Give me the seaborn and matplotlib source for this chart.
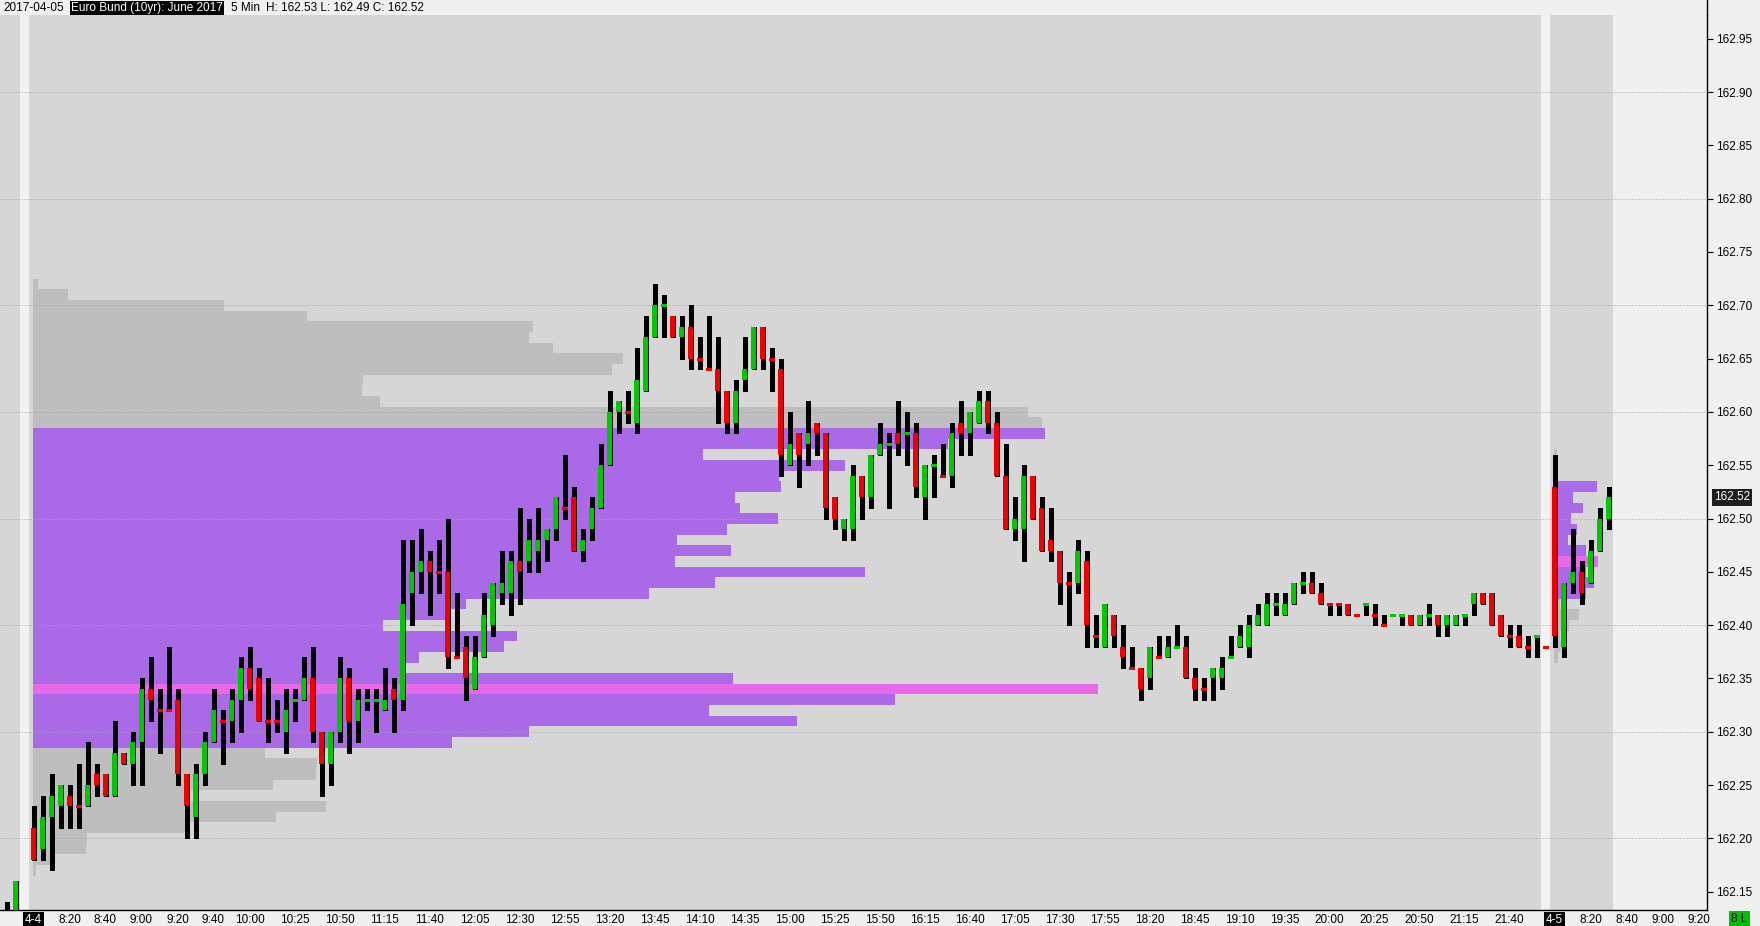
import numpy as np
import matplotlib
matplotlib.use("Agg")
import matplotlib.pyplot as plt
import matplotlib.transforms as mtransforms
from matplotlib.lines import Line2D
import seaborn as sns

sns.set_theme(style="white")
plt.rcParams['font.family'] = ['Liberation Sans', 'DejaVu Sans']
plt.rcParams['text.color'] = 'black'
plt.rcParams['xtick.color'] = 'black'
plt.rcParams['ytick.color'] = 'black'

# ---------------- data ----------------
# tail of previous session (4-3)
prev_open = [162.12, 162.12]
prev_high = [162.14, 162.16]
prev_low = [162.10, 162.10]
prev_close = [162.11, 162.16]

# session 4-4, 5-minute bars from 8:00 to 21:55
day1_open = [
    162.21, 162.19, 162.22, 162.23, 162.24, 162.23, 162.23, 162.26, 162.26, 162.24,
    162.28, 162.27, 162.29, 162.34, 162.32, 162.32, 162.33, 162.26, 162.22, 162.26,
    162.29, 162.31, 162.31, 162.33, 162.36, 162.35, 162.31, 162.31, 162.30, 162.33,
    162.33, 162.35, 162.30, 162.27, 162.30, 162.35, 162.31, 162.33, 162.33, 162.32,
    162.34, 162.33, 162.43, 162.45, 162.46, 162.45, 162.45, 162.37, 162.38, 162.34,
    162.37, 162.40, 162.43, 162.43, 162.46, 162.46, 162.47, 162.48, 162.49, 162.51,
    162.52, 162.47, 162.49, 162.51, 162.55, 162.60, 162.60, 162.59, 162.62, 162.67,
    162.70, 162.69, 162.67, 162.68, 162.65, 162.64, 162.64, 162.62, 162.59, 162.63,
    162.64, 162.68, 162.65, 162.64, 162.55, 162.58, 162.57, 162.59, 162.58, 162.52,
    162.49, 162.49, 162.54, 162.52, 162.56, 162.57, 162.58, 162.58, 162.58, 162.52,
    162.55, 162.54, 162.54, 162.59, 162.58, 162.59, 162.61, 162.59, 162.54, 162.49,
    162.49, 162.54, 162.51, 162.48, 162.47, 162.44, 162.44, 162.46, 162.39, 162.38,
    162.41, 162.38, 162.36, 162.36, 162.35, 162.37, 162.37, 162.38, 162.38, 162.35,
    162.34, 162.35, 162.35, 162.37, 162.38, 162.38, 162.40, 162.40, 162.42, 162.41,
    162.42, 162.44, 162.44, 162.43, 162.42, 162.42, 162.42, 162.41, 162.42, 162.41,
    162.40, 162.41, 162.41, 162.41, 162.40, 162.41, 162.41, 162.40, 162.40, 162.41,
    162.42, 162.43, 162.43, 162.41, 162.39, 162.39, 162.38, 162.39]
day1_high = [
    162.23, 162.24, 162.26, 162.25, 162.25, 162.27, 162.29, 162.27, 162.26, 162.31,
    162.28, 162.30, 162.35, 162.37, 162.34, 162.38, 162.34, 162.26, 162.27, 162.30,
    162.34, 162.32, 162.34, 162.37, 162.38, 162.36, 162.35, 162.33, 162.34, 162.34,
    162.37, 162.38, 162.30, 162.30, 162.37, 162.36, 162.34, 162.34, 162.34, 162.36,
    162.35, 162.48, 162.48, 162.49, 162.47, 162.48, 162.50, 162.43, 162.39, 162.39,
    162.43, 162.44, 162.47, 162.47, 162.51, 162.50, 162.51, 162.49, 162.52, 162.56,
    162.53, 162.49, 162.52, 162.57, 162.62, 162.61, 162.62, 162.66, 162.69, 162.72,
    162.71, 162.69, 162.69, 162.70, 162.67, 162.69, 162.67, 162.62, 162.63, 162.67,
    162.68, 162.68, 162.66, 162.65, 162.60, 162.58, 162.61, 162.59, 162.58, 162.52,
    162.50, 162.55, 162.54, 162.56, 162.59, 162.58, 162.61, 162.60, 162.59, 162.55,
    162.56, 162.57, 162.59, 162.61, 162.60, 162.62, 162.62, 162.60, 162.57, 162.52,
    162.55, 162.54, 162.52, 162.51, 162.47, 162.45, 162.48, 162.47, 162.41, 162.42,
    162.41, 162.40, 162.38, 162.36, 162.38, 162.39, 162.39, 162.40, 162.39, 162.36,
    162.35, 162.36, 162.37, 162.39, 162.40, 162.41, 162.42, 162.43, 162.43, 162.43,
    162.44, 162.45, 162.45, 162.44, 162.42, 162.42, 162.42, 162.41, 162.42, 162.42,
    162.41, 162.41, 162.41, 162.41, 162.41, 162.42, 162.41, 162.41, 162.41, 162.41,
    162.43, 162.43, 162.43, 162.41, 162.40, 162.40, 162.39, 162.39]
day1_low = [
    162.18, 162.18, 162.17, 162.21, 162.21, 162.21, 162.23, 162.24, 162.24, 162.24,
    162.27, 162.25, 162.25, 162.31, 162.28, 162.32, 162.25, 162.20, 162.20, 162.25,
    162.29, 162.27, 162.29, 162.30, 162.33, 162.31, 162.29, 162.30, 162.28, 162.31,
    162.33, 162.29, 162.24, 162.25, 162.29, 162.28, 162.29, 162.32, 162.30, 162.32,
    162.30, 162.32, 162.40, 162.43, 162.41, 162.43, 162.36, 162.37, 162.33, 162.34,
    162.37, 162.39, 162.42, 162.41, 162.42, 162.45, 162.45, 162.46, 162.48, 162.50,
    162.47, 162.46, 162.48, 162.51, 162.55, 162.58, 162.59, 162.58, 162.62, 162.67,
    162.67, 162.67, 162.65, 162.64, 162.64, 162.64, 162.59, 162.58, 162.58, 162.62,
    162.64, 162.64, 162.62, 162.54, 162.55, 162.53, 162.55, 162.56, 162.50, 162.49,
    162.48, 162.48, 162.50, 162.51, 162.56, 162.51, 162.56, 162.55, 162.52, 162.50,
    162.52, 162.54, 162.53, 162.56, 162.56, 162.59, 162.58, 162.54, 162.49, 162.48,
    162.46, 162.50, 162.47, 162.46, 162.42, 162.40, 162.43, 162.38, 162.38, 162.38,
    162.38, 162.36, 162.36, 162.33, 162.34, 162.37, 162.37, 162.38, 162.35, 162.33,
    162.33, 162.33, 162.34, 162.37, 162.38, 162.37, 162.40, 162.40, 162.41, 162.41,
    162.42, 162.43, 162.43, 162.42, 162.41, 162.41, 162.41, 162.41, 162.41, 162.40,
    162.40, 162.41, 162.40, 162.40, 162.40, 162.40, 162.39, 162.39, 162.40, 162.40,
    162.41, 162.42, 162.40, 162.39, 162.38, 162.38, 162.37, 162.37]
day1_close = [
    162.18, 162.22, 162.24, 162.25, 162.23, 162.23, 162.25, 162.25, 162.24, 162.28,
    162.27, 162.29, 162.34, 162.33, 162.32, 162.32, 162.26, 162.23, 162.26, 162.29,
    162.32, 162.31, 162.33, 162.36, 162.34, 162.31, 162.31, 162.31, 162.32, 162.33,
    162.35, 162.30, 162.27, 162.30, 162.35, 162.31, 162.33, 162.33, 162.33, 162.33,
    162.33, 162.42, 162.45, 162.46, 162.45, 162.45, 162.37, 162.37, 162.35, 162.37,
    162.41, 162.44, 162.44, 162.46, 162.45, 162.48, 162.48, 162.49, 162.52, 162.51,
    162.47, 162.48, 162.51, 162.55, 162.60, 162.61, 162.60, 162.63, 162.67, 162.70,
    162.70, 162.67, 162.68, 162.65, 162.65, 162.64, 162.62, 162.59, 162.62, 162.64,
    162.68, 162.65, 162.65, 162.56, 162.57, 162.56, 162.58, 162.58, 162.51, 162.50,
    162.50, 162.54, 162.52, 162.56, 162.57, 162.57, 162.57, 162.58, 162.53, 162.55,
    162.55, 162.54, 162.58, 162.58, 162.60, 162.61, 162.59, 162.54, 162.49, 162.50,
    162.54, 162.50, 162.47, 162.47, 162.44, 162.44, 162.47, 162.40, 162.39, 162.42,
    162.39, 162.37, 162.36, 162.34, 162.38, 162.37, 162.38, 162.38, 162.35, 162.34,
    162.34, 162.36, 162.36, 162.37, 162.39, 162.40, 162.41, 162.42, 162.42, 162.42,
    162.44, 162.44, 162.43, 162.42, 162.42, 162.42, 162.41, 162.41, 162.42, 162.41,
    162.40, 162.41, 162.41, 162.40, 162.41, 162.41, 162.40, 162.41, 162.41, 162.41,
    162.43, 162.42, 162.40, 162.39, 162.39, 162.38, 162.38, 162.39]

# settlement print at 22:00 (drawn inside the session break)
settle_price = [162.38]

# session 4-5, 5-minute bars from 8:00
day2_open = [162.53, 162.38, 162.44, 162.45, 162.44, 162.47, 162.50]
day2_high = [162.56, 162.44, 162.49, 162.46, 162.48, 162.51, 162.53]
day2_low = [162.38, 162.37, 162.43, 162.42, 162.44, 162.47, 162.49]
day2_close = [162.39, 162.44, 162.45, 162.43, 162.47, 162.50, 162.52]

# volume profiles (length in bar widths), value area and point of control
profile1_levels = [
    162.72, 162.71, 162.70, 162.69, 162.68, 162.67, 162.66, 162.65, 162.64, 162.63,
    162.62, 162.61, 162.60, 162.59, 162.58, 162.57, 162.56, 162.55, 162.54, 162.53,
    162.52, 162.51, 162.50, 162.49, 162.48, 162.47, 162.46, 162.45, 162.44, 162.43,
    162.42, 162.41, 162.40, 162.39, 162.38, 162.37, 162.36, 162.35, 162.34, 162.33,
    162.32, 162.31, 162.30, 162.29, 162.28, 162.27, 162.26, 162.25, 162.24, 162.23,
    162.22, 162.21, 162.20, 162.19, 162.18, 162.17]
profile1_volume = [
    0.6, 3.9, 21.3, 30.5, 55.6, 55.1, 57.8, 65.6, 64.4, 36.7,
    36.6, 38.6, 110.6, 112.1, 112.5, 101.7, 74.5, 90.3, 82.9, 83.2,
    78.0, 78.6, 82.8, 77.1, 71.6, 77.6, 71.4, 92.5, 75.8, 68.5,
    48.1, 46.5, 38.9, 53.8, 52.4, 42.9, 41.4, 77.8, 118.4, 95.8,
    75.1, 84.9, 55.1, 46.6, 25.8, 31.6, 31.5, 26.7, 17.5, 32.6,
    27.0, 17.5, 6.0, 5.9, 2.5, 0.4]
profile1_va = (162.29, 162.58)
profile1_poc = 162.34

profile2_levels = [
    162.56, 162.55, 162.54, 162.53, 162.52, 162.51, 162.50, 162.49, 162.48, 162.47,
    162.46, 162.45, 162.44, 162.43, 162.42, 162.41, 162.40, 162.39, 162.38, 162.37]
profile2_volume = [
    0.35, 0.35, 0.35, 4.8, 2.1, 3.2, 1.9, 2.6, 1.6, 3.6,
    4.9, 3.6, 4.4, 3.6, 0.7, 2.8, 1.7, 0.7, 0.8, 0.45]
profile2_va = (162.43, 162.53)
profile2_poc = 162.46

day1_ticks = ["4-4", "8:20", "8:40", "9:00", "9:20", "9:40", "10:00", "10:25", "10:50",
              "11:15", "11:40", "12:05", "12:30", "12:55", "13:20", "13:45", "14:10",
              "14:35", "15:00", "15:25", "15:50", "16:15", "16:40", "17:05", "17:30",
              "17:55", "18:20", "18:45", "19:10", "19:35", "20:00", "20:25", "20:50",
              "21:15", "21:40"]
day2_ticks = ["4-5", "8:20", "8:40", "9:00", "9:20"]
price_ticks = [162.15, 162.20, 162.25, 162.30, 162.35, 162.40, 162.45, 162.50, 162.55,
               162.60, 162.65, 162.70, 162.75, 162.80, 162.85, 162.90, 162.95]
grid_levels = [162.20, 162.30, 162.40, 162.50, 162.60, 162.70, 162.80, 162.90]

# ---------------- layout ----------------
W, H = 1760, 926
AX_L, AX_R, AX_T, AX_B = 0, 1707, 15, 910
BAR_PX = 9.0
X0_PX = 33.5
DAY2_START = 169          # slot of 4-5 8:00 bar
BREAK1, BREAK2 = -1, 168  # session break slots
tick_px = 1066.3           # pixels per 1.00 price

GRAY_BG = '#d6d6d6'
LIGHT = '#f0f0f0'
GREEN = '#00c800'
RED = '#f00000'
PURPLE = '#aa6ae8'
PINK = '#e96ae9'
PGRAY = '#bebebe'

fig = plt.figure(figsize=(W / 100, H / 100), dpi=100, facecolor=LIGHT)
ax = fig.add_axes([AX_L / W, (H - AX_B) / H, (AX_R - AX_L) / W, (AX_B - AX_T) / H])
ax.set_facecolor(GRAY_BG)

x_left = (AX_L - X0_PX) / BAR_PX
x_right = (AX_R - X0_PX) / BAR_PX
ax.set_xlim(x_left, x_right)
y_of_5 = 518.55
ax.set_ylim(162.5 + (y_of_5 - AX_B) / tick_px, 162.5 + (y_of_5 - AX_T) / tick_px)

# session backgrounds
ax.axvspan(BREAK1 - 0.5, BREAK1 + 0.5, color='#f2f2f2', lw=0, zorder=0.5)
ax.axvspan(BREAK2 - 0.5, BREAK2 + 0.5, color='#f2f2f2', lw=0, zorder=0.5)
ax.axvspan(DAY2_START + len(day2_open) - 0.5, x_right + 1, color=LIGHT, lw=0, zorder=0.5)


def draw_profile(levels, vol, left, va, poc):
    levels = np.asarray(levels)
    vol = np.asarray(vol)
    cols = []
    for p in levels:
        if abs(p - poc) < 1e-6:
            cols.append(PINK)
        elif va[0] - 1e-6 <= p <= va[1] + 1e-6:
            cols.append(PURPLE)
        else:
            cols.append(PGRAY)
    ax.barh(levels, vol, left=left, height=0.01, color=cols, linewidth=0,
            antialiased=False, zorder=1.5)


draw_profile(profile1_levels, profile1_volume, -0.09, profile1_va, profile1_poc)
draw_profile(profile2_levels, profile2_volume, DAY2_START - 0.06, profile2_va, profile2_poc)

for g in grid_levels:
    ax.axhline(g, color='#a4a4a4', lw=0.72, ls=(0, (1, 2)), zorder=2)

# ---------------- candles ----------------
o = np.array(prev_open + day1_open + settle_price + day2_open)
h = np.array(prev_high + day1_high + settle_price + day2_high)
l = np.array(prev_low + day1_low + settle_price + day2_low)
c = np.array(prev_close + day1_close + settle_price + day2_close)
x = np.concatenate([np.arange(-len(prev_open) - 1, -1),
                    np.arange(0, len(day1_open)),
                    [BREAK2],
                    DAY2_START + np.arange(len(day2_open))]).astype(float)

ups = []
last_up = True
prev_c = None
for oo, cc in zip(o, c):
    if cc - oo > 1e-6:
        up = True
    elif oo - cc > 1e-6:
        up = False
    elif prev_c is not None and cc - prev_c > 1e-6:
        up = True
    elif prev_c is not None and prev_c - cc > 1e-6:
        up = False
    else:
        up = last_up
    ups.append(up)
    last_up = up
    prev_c = cc
ups = np.array(ups)
cols = np.where(ups, GREEN, RED)

wick = h - l > 1e-6
ax.vlines(x[wick], l[wick], h[wick], color='black', lw=2.4, zorder=3,
          antialiased=False)
body = np.abs(c - o) > 1e-6
BW = 0.52
ax.bar(x[body], (c - o)[body], bottom=o[body], width=BW, color=cols[body],
       linewidth=0, antialiased=False, zorder=4)
doji = ~body
ax.hlines(o[doji], x[doji] - BW / 2, x[doji] + BW / 2, colors=cols[doji], lw=0.9,
          zorder=4, antialiased=False)

# ---------------- axes ----------------
def slot(label, start):
    if '-' in label:
        return start
    hh, mm = label.split(':')
    return start + ((int(hh) - 8) * 60 + int(mm)) // 5


xt = [slot(t, 0) for t in day1_ticks] + [slot(t, DAY2_START) for t in day2_ticks]
ax.set_xticks(xt)
ax.set_xticklabels(day1_ticks + day2_ticks)
ax.tick_params(axis='x', length=0, pad=3.2, labelsize=8.5)
for lab in ax.get_xticklabels():
    if '-' in lab.get_text():
        lab.set_color('white')
        lab.set_bbox(dict(boxstyle='square,pad=0.18', fc='black', ec='none'))

ax.set_yticks(price_ticks)
ax.set_yticklabels([f"{p:.2f}" for p in price_ticks])
ax.yaxis.tick_right()
ax.tick_params(axis='y', right=True, left=False, labelright=True, labelleft=False,
               length=4, width=0.8, direction='out', pad=2.5, labelsize=8.5)
for s in ['top', 'left']:
    ax.spines[s].set_visible(False)
for s in ['right', 'bottom']:
    ax.spines[s].set_visible(True)
    ax.spines[s].set_color('black')
    ax.spines[s].set_linewidth(1.0)
ax.grid(False)

# extend right axis line up through the header
fig.add_artist(Line2D([AX_R / W, AX_R / W], [1 - AX_T / H, 1.0], color='black', lw=1.0,
                      transform=fig.transFigure))

# current price marker
trans = mtransforms.blended_transform_factory(ax.transAxes, ax.transData)
ax.text(1 + 7 / (AX_R - AX_L), day2_close[-1], f"{day2_close[-1]:.2f}", transform=trans,
        color='white', fontsize=8.5, va='center', ha='left', clip_on=False, zorder=10,
        bbox=dict(boxstyle='square,pad=0.2', fc='#1e1e1e', ec='none'))

# header
def ftext(px, py, s, **kw):
    fig.text(px / W, 1 - py / H, s, va='center', ha='left', fontsize=8.5, **kw)


ftext(3, 8.0, "2017-04-05")
ftext(71, 8.0, "Euro Bund (10yr): June 2017", color='white',
      bbox=dict(boxstyle='square,pad=0.12', fc='black', ec='none'))
ftext(231, 8.0, "5 Min")
ftext(266, 8.0, f"H: {day2_high[-1]:.2f} L: {day2_low[-1]:.2f} C: {day2_close[-1]:.2f}")

# bottom-right status box
fig.text(1739.5 / W, 1 - 919 / H, "8 L", ha='center', va='center', fontsize=8.5,
         color='black', bbox=dict(boxstyle='square,pad=0.2', fc='#00c000', ec='none'))

fig.savefig("out.png", dpi=100, facecolor=LIGHT)
